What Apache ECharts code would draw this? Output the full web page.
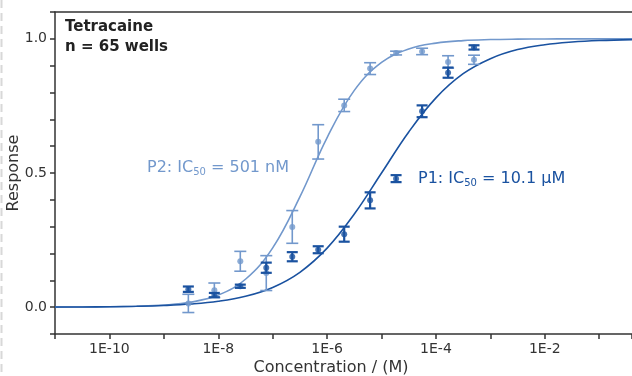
<!DOCTYPE html>
<html>
<head>
<meta charset="utf-8">
<script src="https://cdn.jsdelivr.net/npm/echarts@6/dist/echarts.min.js"></script>
<style>
html,body{margin:0;padding:0;background:#fff;}
#chart{width:632px;height:376px;}
</style>
</head>
<body>
<div id="chart"></div>
<script>
// Concentrations (M), 3-fold dilution series
const conc = [2.82e-9, 8.47e-9, 2.54e-8, 7.62e-8, 2.29e-7, 6.86e-7, 2.06e-6, 6.17e-6, 1.85e-5, 5.56e-5, 1.67e-4, 5.0e-4];
// P1 (dark) mean response and error
const p1Mean = [0.067, 0.045, 0.078, 0.147, 0.188, 0.214, 0.272, 0.398, 0.479, 0.730, 0.874, 0.968];
const p1Err  = [0.010, 0.008, 0.006, 0.019, 0.017, 0.013, 0.028, 0.030, 0.013, 0.022, 0.019, 0.008];
// P2 (light) mean response and error
const p2Mean = [0.014, 0.063, 0.171, 0.127, 0.299, 0.616, 0.752, 0.889, 0.947, 0.953, 0.914, 0.922];
const p2Err  = [0.034, 0.027, 0.037, 0.065, 0.061, 0.064, 0.023, 0.022, 0.007, 0.012, 0.023, 0.017];
const fitConc = [1e-11, 3.16e-11, 1e-10, 3.16e-10, 1e-9, 3.16e-9, 1e-8, 3.16e-8, 1e-7, 3.16e-7, 1e-6, 3.16e-6, 1e-5, 3.16e-5, 1e-4, 3.16e-4, 1e-3, 3.16e-3, 1e-2, 3.16e-2, 1e-1, 0.4];
const p2Fit = [0.0002, 0.0005, 0.0013, 0.0032, 0.0078, 0.0189, 0.045, 0.104, 0.221, 0.411, 0.632, 0.808, 0.912, 0.962, 0.984, 0.9935, 0.9973, 0.9989, 0.9996, 0.9998, 0.9999, 1.0];
const p1Fit = [0.0005, 0.0009, 0.0018, 0.0033, 0.0063, 0.0118, 0.0219, 0.0405, 0.0736, 0.130, 0.220, 0.347, 0.500, 0.653, 0.780, 0.870, 0.926, 0.960, 0.978, 0.988, 0.9937, 0.997];
// Axis settings
const xMin = 1e-11, xMax = 0.4;
const yMin = -0.1, yMax = 1.1, yStep = 0.1;
const titleLines = ['Tetracaine', 'n = 65 wells'];

const C_LIGHT = '#7298cc';
const C_DARK = '#1a52a0';
const TXT = '#333333';
const FONT = 'DejaVu Sans';

const zip = (xs, ys) => xs.map((x, i) => [x, ys[i]]);
const zip3 = (xs, ys, es) => xs.map((x, i) => [x, ys[i], es[i]]);

function errRender(color, capHalf, lw) {
  return function (params, api) {
    const x = api.value(0), m = api.value(1), e = api.value(2);
    const top = api.coord([x, m + e]);
    const bot = api.coord([x, m - e]);
    const st = { stroke: color, lineWidth: lw };
    return {
      type: 'group',
      children: [
        { type: 'line', shape: { x1: top[0], y1: top[1], x2: bot[0], y2: bot[1] }, style: st },
        { type: 'line', shape: { x1: top[0] - capHalf, y1: top[1], x2: top[0] + capHalf, y2: top[1] }, style: st },
        { type: 'line', shape: { x1: bot[0] - capHalf, y1: bot[1], x2: bot[0] + capHalf, y2: bot[1] }, style: st }
      ]
    };
  };
}

const chart = echarts.init(document.getElementById('chart'), null, { renderer: 'canvas' });
chart.setOption({
  animation: false,
  backgroundColor: '#ffffff',
  textStyle: { fontFamily: FONT },
  grid: { left: 55, right: 0, top: 12, bottom: 42, containLabel: false, outerBoundsMode: 'none', show: false },
  xAxis: [{
    type: 'log', logBase: 10, min: xMin, max: xMax, interval: 1, position: 'bottom',
    name: 'Concentration / (M)', nameLocation: 'middle', nameGap: 26, nameMoveOverlap: false,
    nameTextStyle: { color: TXT, fontSize: 16, fontFamily: FONT, padding: [0, 25, 0, 0] },
    axisLine: { show: true, onZero: false, lineStyle: { color: TXT, width: 1.5 } },
    axisTick: { show: true, length: 5, inside: false, lineStyle: { color: TXT, width: 1.5 } },
    axisLabel: {
      color: TXT, fontSize: 14, fontFamily: FONT, margin: 8, showMinLabel: true, showMaxLabel: true, hideOverlap: false,
      formatter: function (v) {
        const e = Math.log10(v);
        const r = Math.round(e);
        if (Math.abs(e - r) > 1e-6) return '';
        if (r % 2 !== 0 || r <= -11) return '';
        return '1E' + r;
      }
    },
    splitLine: { show: false }
  }, {
    type: 'value', position: 'top', min: 0, max: 1,
    axisLine: { show: true, onZero: false, lineStyle: { color: TXT, width: 1.5 } },
    axisTick: { show: false }, axisLabel: { show: false }, splitLine: { show: false }
  }],
  yAxis: {
    type: 'value', min: yMin, max: yMax, interval: yStep,
    name: 'Response', nameLocation: 'middle', nameGap: 33, nameMoveOverlap: false,
    nameTextStyle: { color: TXT, fontSize: 16, fontFamily: FONT },
    axisLine: { show: true, onZero: false, lineStyle: { color: TXT, width: 1.5 } },
    axisTick: { show: true, length: 5, inside: false, lineStyle: { color: TXT, width: 1.5 } },
    axisLabel: {
      color: TXT, fontSize: 14, fontFamily: FONT, margin: 8,
      formatter: function (v) {
        const h = v * 2;
        if (v < -1e-6 || Math.abs(h - Math.round(h)) > 1e-6) return '';
        return v.toFixed(1);
      }
    },
    splitLine: { show: false }
  },
  series: [
    { name: 'P2 fit', type: 'line', data: zip(fitConc, p2Fit), smooth: 0.4, showSymbol: false, lineStyle: { color: C_LIGHT, width: 1.6 }, z: 2 },
    { name: 'P1 fit', type: 'line', data: zip(fitConc, p1Fit), smooth: 0.4, showSymbol: false, lineStyle: { color: C_DARK, width: 1.6 }, z: 3 },
    { name: 'P2 err', type: 'custom', data: zip3(conc, p2Mean, p2Err), renderItem: errRender(C_LIGHT, 6, 1.6), z: 4 },
    { name: 'P2', type: 'scatter', data: zip(conc, p2Mean), symbol: 'circle', symbolSize: 6, itemStyle: { color: C_LIGHT }, z: 5 },
    { name: 'P1 err', type: 'custom', data: zip3(conc, p1Mean, p1Err), renderItem: errRender(C_DARK, 5.5, 2.2), z: 6 },
    { name: 'P1', type: 'scatter', data: zip(conc, p1Mean), symbol: 'circle', symbolSize: 6, itemStyle: { color: C_DARK }, z: 7 }
  ],
  graphic: [
    { type: 'line', shape: { x1: 1.5, y1: 0, x2: 1.5, y2: 376 }, style: { stroke: '#d8d8d8', lineWidth: 2, lineDash: [8, 5] }, z: 1 },
    { type: 'text', left: 65, top: 20, style: { text: titleLines[0], fill: '#222', font: 'bold 15px "DejaVu Sans"' }, z: 10 },
    { type: 'text', left: 65, top: 40, style: { text: titleLines[1], fill: '#222', font: 'bold 15px "DejaVu Sans"' }, z: 10 },
    { type: 'text', left: 147, top: 160, style: {
        text: '{a|P2: IC}{s|50}{a| = 501 nM}',
        rich: { a: { fill: C_LIGHT, fontSize: 16, fontFamily: FONT }, s: { fill: C_LIGHT, fontSize: 10, fontFamily: FONT, padding: [8, 0, 0, 0] } }
      }, z: 10 },
    { type: 'text', left: 418, top: 171, style: {
        text: '{a|P1: IC}{s|50}{a| = 10.1 µM}',
        rich: { a: { fill: C_DARK, fontSize: 16, fontFamily: FONT }, s: { fill: C_DARK, fontSize: 10, fontFamily: FONT, padding: [8, 0, 0, 0] } }
      }, z: 10 }
  ]
});
</script>
</body>
</html>
